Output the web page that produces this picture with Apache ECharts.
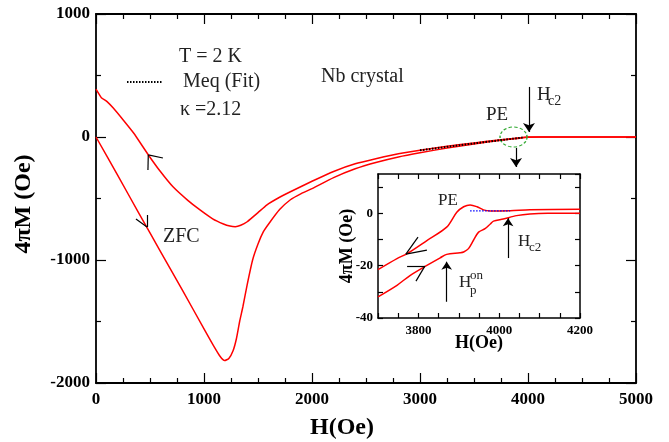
<!DOCTYPE html>
<html>
<head>
<meta charset="utf-8">
<script src="https://cdn.jsdelivr.net/npm/echarts@6/dist/echarts.min.js"></script>
<style>
html, body { margin: 0; padding: 0; background: #fff; }
#chart { width: 669px; height: 442px; }
</style>
</head>
<body>
<div id="chart"></div>
<script>
// ZFC branch (field going up), H in Oe, 4piM in Oe
var zfcH = [0, 200, 400, 600, 800, 1000, 1100, 1150, 1190, 1230, 1270, 1300, 1330, 1360, 1400, 1450, 1500, 1550, 1600, 1700, 1800, 1900, 2000, 2200, 2400, 2600, 2800, 3000, 3250, 3500, 3750, 3900, 4000, 4100, 4500, 5000];
var zfcM = [0, -310, -625, -935, -1245, -1560, -1715, -1785, -1818, -1800, -1735, -1640, -1500, -1380, -1200, -1000, -870, -770, -705, -590, -510, -460, -420, -330, -258, -205, -162, -128, -90, -57, -26, -12, -3, 0, 0, 0];

// return branch (field going down)
var retH = [0, 50, 100, 160, 250, 350, 485, 600, 713, 850, 963, 1080, 1180, 1240, 1290, 1340, 1400, 1500, 1580, 1700, 1800, 2000, 2200, 2400, 2600, 2800, 3000, 3250, 3500, 3750, 3900, 4000, 4500, 5000];
var retM = [390, 320, 290, 235, 140, 30, -146, -285, -405, -515, -593, -665, -707, -724, -729, -718, -689, -615, -553, -490, -445, -360, -280, -218, -175, -136, -108, -76, -48, -23, -9, 0, 0, 0];

// Meq fit (dotted)
var fitH = [3000, 3250, 3500, 3750, 3950];
var fitM = [-108, -80, -52, -25, -5];

// inset: zoom near Hc2
var inZfcH = [3700, 3747, 3780, 3821, 3854, 3870, 3903, 3912, 3924, 3936, 3949, 3965, 3978, 3986, 4010, 4043, 4076, 4120, 4200];
var inZfcM = [-31.9, -27.5, -23.7, -19.9, -17, -15.7, -15.1, -14.8, -13.5, -10.4, -7.2, -5.9, -4.1, -3, -2.2, -0.9, -0.25, 0, 0];
var inRetH = [3700, 3747, 3772, 3821, 3870, 3895, 3912, 3928, 3945, 3961, 3978, 4027, 4076, 4200];
var inRetM = [-21.5, -17.3, -15.4, -10.4, -5.3, 0.4, 2.5, 3.2, 2.5, 1.3, 0.9, 1.0, 1.3, 1.5];
var inFitH = [3928, 4027];
var inFitM = [0.9, 0.9];

// arrows (data coordinates)
var mainChevrons = [
    [[484, -146], [620, -171]], [[484, -146], [481, -268]],
    [[472, -732], [370, -667]], [[472, -732], [472, -634]]
];
var mainArrows = [
    [[4009, 407], [4009, 41]],
    [[3889, -89], [3889, -244]]
];
var insetChevrons = [
    [[3769, -15.6], [3821, -14.1]], [[3769, -15.6], [3799, -9.1]],
    [[3816, -20.2], [3772, -20.2]], [[3816, -20.2], [3794, -25.9]]
];
var insetArrows = [
    [[4022, -17.1], [4022, -1.9]],
    [[3870, -33.8], [3870, -18.5]]
];

var serif = '"Liberation Serif", "DejaVu Serif", serif';

function pairs(xs, ys) {
    return xs.map(function (x, i) { return [x, ys[i]]; });
}

function segs(list, arrow) {
    return list.map(function (s) {
        return [
            { coord: s[0], symbol: 'none' },
            { coord: s[1], symbol: arrow ? 'arrow' : 'none' }
        ];
    });
}

function axis(o) {
    var a = {
        type: 'value',
        gridIndex: o.grid,
        position: o.position,
        min: o.min,
        max: o.max,
        interval: o.interval,
        axisLine: { show: true, onZero: false, lineStyle: { color: '#000', width: o.lw } },
        axisTick: { show: true, inside: true, length: o.tick, lineStyle: { color: '#000', width: 1.2 } },
        minorTick: { show: !!o.minor, splitNumber: o.minor || 5, length: o.tick / 2, lineStyle: { color: '#000', width: 1.2 } },
        splitLine: { show: false },
        minorSplitLine: { show: false },
        axisLabel: {
            show: !!o.labels,
            margin: o.margin,
            color: '#000',
            fontFamily: serif,
            fontWeight: 'bold',
            fontSize: o.fs,
            showMaxLabel: o.showMax !== false,
            formatter: o.fmt || function (v) { return String(v); }
        }
    };
    return a;
}

var chartDom = document.getElementById('chart');
var myChart = echarts.init(chartDom, null, { renderer: 'canvas' });

function txt(x, y, s, size, opts) {
    opts = opts || {};
    return {
        type: 'text', x: x, y: y, rotation: opts.rot || 0, z: 100,
        style: {
            text: s, fill: opts.color || '#222',
            font: (opts.bold ? 'bold ' : '') + size + 'px ' + serif,
            align: opts.align || 'left', verticalAlign: 'middle'
        }
    };
}

var option = {
    animation: false,
    backgroundColor: '#fff',
    grid: [
        { left: 96, top: 14, width: 540, height: 369 },
        { left: 378, top: 174, width: 202, height: 144, show: true, backgroundColor: '#fff', borderWidth: 0 }
    ],
    xAxis: [
        axis({ grid: 0, position: 'bottom', min: 0, max: 5000, interval: 1000, minor: 4, tick: 10, lw: 1.8, labels: true, margin: 8, fs: 17 }),
        axis({ grid: 0, position: 'top', min: 0, max: 5000, interval: 1000, minor: 4, tick: 10, lw: 1.8 }),
        axis({ grid: 1, position: 'bottom', min: 3700, max: 4200, interval: 50, tick: 5, lw: 1.5, labels: true, margin: 6, fs: 13,
            fmt: function (v) { return v % 200 === 0 ? String(v) : ''; } }),
        axis({ grid: 1, position: 'top', min: 3700, max: 4200, interval: 50, tick: 5, lw: 1.5 })
    ],
    yAxis: [
        axis({ grid: 0, position: 'left', min: -2000, max: 1000, interval: 1000, minor: 2, tick: 10, lw: 1.8, labels: true, margin: 6, fs: 17 }),
        axis({ grid: 0, position: 'right', min: -2000, max: 1000, interval: 1000, minor: 2, tick: 10, lw: 1.8 }),
        axis({ grid: 1, position: 'left', min: -40, max: 15, interval: 10, tick: 5, lw: 1.5, labels: true, margin: 5, fs: 13,
            showMax: false, fmt: function (v) { return v % 20 === 0 ? String(v) : ''; } }),
        axis({ grid: 1, position: 'right', min: -40, max: 15, interval: 10, tick: 5, lw: 1.5 })
    ],
    series: [
        {
            name: 'ZFC', type: 'line', xAxisIndex: 0, yAxisIndex: 0,
            data: pairs(zfcH, zfcM), showSymbol: false, smooth: 0.2,
            lineStyle: { color: '#ff0000', width: 1.5 }
        },
        {
            name: 'return', type: 'line', xAxisIndex: 0, yAxisIndex: 0,
            data: pairs(retH, retM), showSymbol: false, smooth: 0.12,
            lineStyle: { color: '#ff0000', width: 1.5 }
        },
        {
            name: 'Meq (Fit)', type: 'line', xAxisIndex: 0, yAxisIndex: 0, z: 5,
            data: pairs(fitH, fitM), showSymbol: false,
            lineStyle: { color: '#000', width: 2, type: [1.5, 1.5] },
            markLine: {
                silent: true, animation: false, symbolSize: 9,
                label: { show: false },
                lineStyle: { color: '#000', width: 1.2, type: 'solid' },
                data: segs(mainChevrons, false).concat(segs(mainArrows, true))
            },
            markPoint: {
                silent: true, animation: false, label: { show: false },
                data: [{
                    coord: [3866, 0], symbol: 'circle', symbolSize: [27, 20],
                    itemStyle: { color: 'rgba(0,0,0,0)', borderColor: '#33aa33', borderWidth: 1.2, borderType: [3, 2] }
                }]
            }
        },
        {
            name: 'inset ZFC', type: 'line', xAxisIndex: 2, yAxisIndex: 2,
            data: pairs(inZfcH, inZfcM), showSymbol: false, smooth: 0.3,
            lineStyle: { color: '#ff0000', width: 1.5 }
        },
        {
            name: 'inset return', type: 'line', xAxisIndex: 2, yAxisIndex: 2,
            data: pairs(inRetH, inRetM), showSymbol: false, smooth: 0.3,
            lineStyle: { color: '#ff0000', width: 1.5 }
        },
        {
            name: 'inset fit', type: 'line', xAxisIndex: 2, yAxisIndex: 2, z: 5,
            data: pairs(inFitH, inFitM), showSymbol: false,
            lineStyle: { color: '#0000ff', width: 1.2, type: [1.5, 1.5] },
            markLine: {
                silent: true, animation: false, symbolSize: 8,
                label: { show: false },
                lineStyle: { color: '#000', width: 1.2, type: 'solid' },
                data: segs(insetChevrons, false).concat(segs(insetArrows, true))
            }
        }
    ],
    graphic: [
        // axis names
        txt(24, 204, '4πM (Oe)', 24, { bold: true, rot: Math.PI / 2, align: 'center', color: '#000' }),
        txt(342, 428, 'H(Oe)', 24, { bold: true, align: 'center', color: '#000' }),
        txt(347, 246, '4πM (Oe)', 18, { bold: true, rot: Math.PI / 2, align: 'center', color: '#000' }),
        txt(479, 343, 'H(Oe)', 18, { bold: true, align: 'center', color: '#000' }),
        // notes in main plot
        txt(179, 57, 'T = 2 K', 20),
        {
            type: 'line', z: 100,
            shape: { x1: 127, y1: 82, x2: 162, y2: 82 },
            style: { stroke: '#000', lineWidth: 2, lineDash: [1.5, 1.5] }
        },
        txt(183, 82, 'Meq (Fit)', 20),
        txt(180, 110, 'κ =2.12', 20),
        txt(321, 77, 'Nb crystal', 20),
        txt(163, 237, 'ZFC', 20),
        txt(486, 115, 'PE', 19),
        txt(537, 95, 'H', 19),
        txt(548, 101, 'c2', 14),
        // inset notes
        txt(438, 201, 'PE', 17),
        txt(518, 242, 'H', 17),
        txt(529, 248, 'c2', 13),
        txt(459, 283, 'H', 17),
        txt(470, 276, 'on', 13),
        txt(470, 291, 'p', 13)
    ]
};

myChart.setOption(option);
</script>
</body>
</html>
